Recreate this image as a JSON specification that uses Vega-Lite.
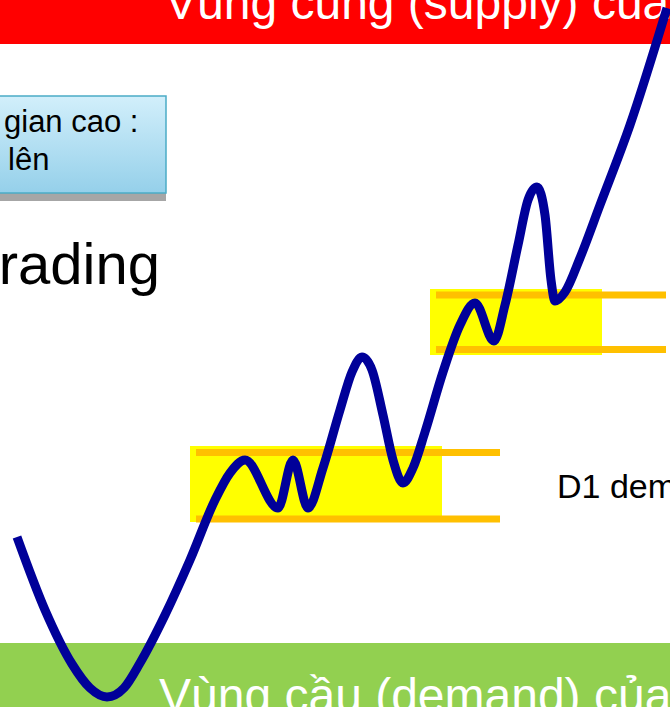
{
  "$schema": "https://vega.github.io/schema/vega-lite/v6.json",
  "width": 670,
  "height": 707,
  "autosize": {"type": "none"},
  "padding": 0,
  "background": "white",
  "config": {"view": {"stroke": null}},
  "encoding": {
    "x": {"field": "x", "type": "quantitative", "scale": {"domain": [0, 670], "nice": false, "zero": false}, "axis": null},
    "y": {"field": "y", "type": "quantitative", "scale": {"domain": [0, 707], "nice": false, "zero": false, "reverse": true}, "axis": null}
  },
  "layer": [
    {
      "data": {"values": [{"name": "supply", "x": 0, "x2": 670, "y": 0, "y2": 44}]},
      "mark": {"type": "rect", "color": "#FF0000"},
      "encoding": {"x2": {"field": "x2"}, "y2": {"field": "y2"}}
    },
    {
      "data": {"values": [{"name": "demand", "x": 0, "x2": 670, "y": 643, "y2": 707}]},
      "mark": {"type": "rect", "color": "#92D050"},
      "encoding": {"x2": {"field": "x2"}, "y2": {"field": "y2"}}
    },
    {
      "data": {"values": [
        {"zone": "D1 low", "x": 190, "x2": 442, "y": 446, "y2": 522},
        {"zone": "D1 high", "x": 430, "x2": 602, "y": 289, "y2": 355}
      ]},
      "mark": {"type": "rect", "color": "#FFFF00"},
      "encoding": {"x2": {"field": "x2"}, "y2": {"field": "y2"}}
    },
    {
      "data": {"values": [
        {"zone": "D1 low top", "x": 196, "x2": 500, "y": 452.5},
        {"zone": "D1 low bottom", "x": 196, "x2": 500, "y": 519},
        {"zone": "D1 high top", "x": 436, "x2": 666, "y": 295},
        {"zone": "D1 high bottom", "x": 436, "x2": 666, "y": 349.5}
      ]},
      "mark": {"type": "rule", "color": "#FFC000", "strokeWidth": 7, "strokeCap": "butt"},
      "encoding": {"x2": {"field": "x2"}}
    },
    {
      "data": {"values": [{"part": "shadow", "x": 0, "x2": 166, "y": 193, "y2": 201}]},
      "mark": {"type": "rect", "color": "#A6A6A6"},
      "encoding": {"x2": {"field": "x2"}, "y2": {"field": "y2"}}
    },
    {
      "data": {"values": [{"part": "box", "x": -5, "x2": 166, "y": 96, "y2": 193}]},
      "mark": {
        "type": "rect",
        "fill": {"gradient": "linear", "x1": 0, "y1": 0, "x2": 0, "y2": 1, "stops": [{"offset": 0, "color": "#D2EFFB"}, {"offset": 1, "color": "#95D0EA"}]},
        "stroke": "#4BACC6",
        "strokeWidth": 1.5
      },
      "encoding": {"x2": {"field": "x2"}, "y2": {"field": "y2"}}
    },
    {
      "data": {"values": [
        {"label": "gian cao :", "x": 4, "y": 132},
        {"label": "lên", "x": 8, "y": 170}
      ]},
      "mark": {"type": "text", "align": "left", "baseline": "alphabetic", "font": "Liberation Sans", "fontSize": 31, "color": "#000000"},
      "encoding": {"text": {"field": "label"}}
    },
    {
      "data": {"values": [{"label": "Trading", "x": 160, "y": 284}]},
      "mark": {"type": "text", "align": "right", "baseline": "alphabetic", "font": "Liberation Sans", "fontSize": 58, "color": "#000000"},
      "encoding": {"text": {"field": "label"}}
    },
    {
      "data": {"values": [{"label": "D1 demand", "x": 557, "y": 498}]},
      "mark": {"type": "text", "align": "left", "baseline": "alphabetic", "font": "Liberation Sans", "fontSize": 34, "color": "#000000"},
      "encoding": {"text": {"field": "label"}}
    },
    {
      "data": {"values": [
        {"label": "Vùng cung (supply) của", "x": 165, "y": 19},
        {"label": "Vùng cầu (demand) của", "x": 159, "y": 712}
      ]},
      "mark": {"type": "text", "align": "left", "baseline": "alphabetic", "font": "Liberation Sans", "fontSize": 48, "color": "#FFFFFF"},
      "encoding": {"text": {"field": "label"}}
    },
    {
      "data": {"values": [
        {"x": 17, "y": 537}, {"x": 45, "y": 610}, {"x": 72, "y": 664}, {"x": 90, "y": 688},
        {"x": 107, "y": 697}, {"x": 124, "y": 688}, {"x": 140, "y": 663}, {"x": 165, "y": 615},
        {"x": 190, "y": 560}, {"x": 215, "y": 500}, {"x": 230, "y": 473}, {"x": 245, "y": 460},
        {"x": 278, "y": 508}, {"x": 293, "y": 460}, {"x": 308, "y": 508},
        {"x": 323, "y": 468}, {"x": 340, "y": 410}, {"x": 352, "y": 372}, {"x": 362, "y": 357},
        {"x": 372, "y": 370}, {"x": 383, "y": 415}, {"x": 393, "y": 460}, {"x": 403, "y": 483},
        {"x": 413, "y": 468}, {"x": 425, "y": 432}, {"x": 443, "y": 372}, {"x": 460, "y": 325},
        {"x": 475, "y": 303}, {"x": 494, "y": 341}, {"x": 505, "y": 305}, {"x": 518, "y": 245},
        {"x": 528, "y": 200}, {"x": 537, "y": 187}, {"x": 545, "y": 215}, {"x": 551, "y": 280},
        {"x": 555, "y": 301}, {"x": 565, "y": 292}, {"x": 580, "y": 258}, {"x": 600, "y": 205},
        {"x": 630, "y": 125}, {"x": 667, "y": 8}
      ]},
      "mark": {"type": "line", "color": "#000099", "strokeWidth": 9, "strokeCap": "butt", "interpolate": "monotone"},
      "encoding": {}
    }
  ]
}
